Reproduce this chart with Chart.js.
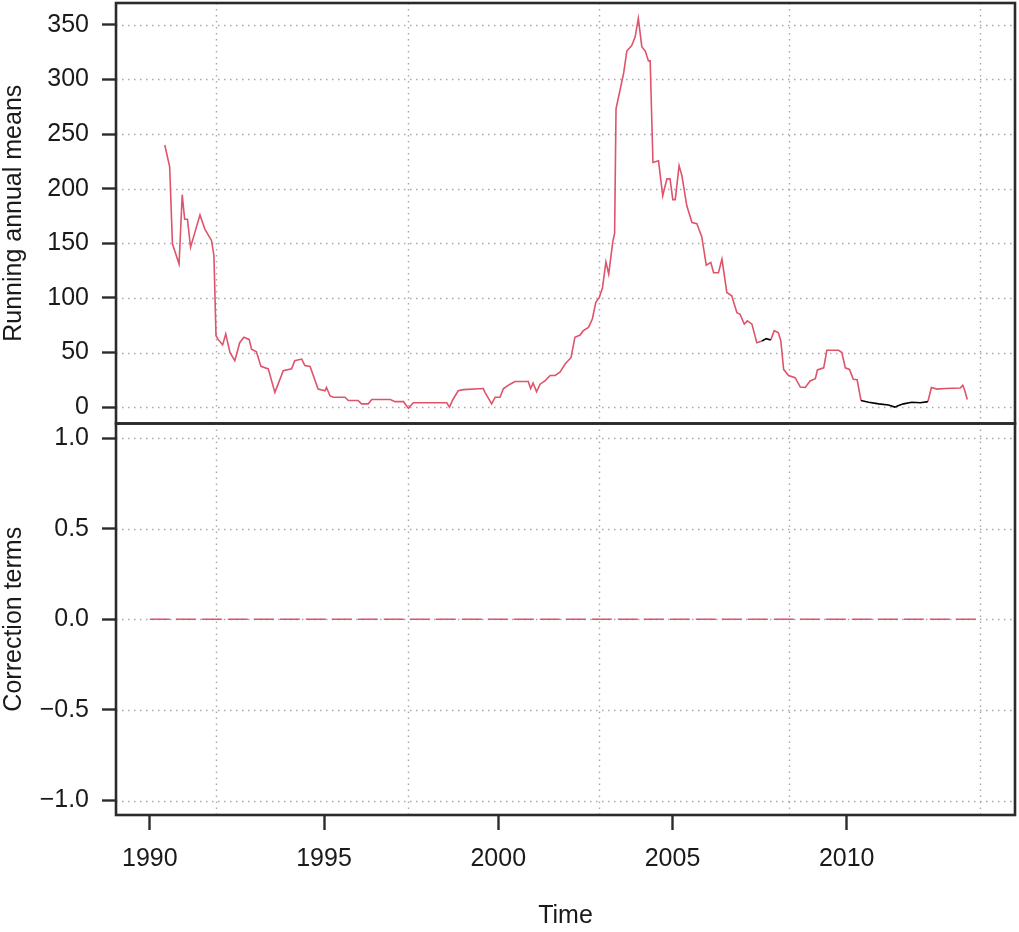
<!DOCTYPE html>
<html>
<head>
<meta charset="utf-8">
<script src="https://cdn.jsdelivr.net/npm/chart.js@4.4.1/dist/chart.umd.min.js"></script>
<style>
    html, body { margin: 0; padding: 0; background: #fff; }
    #wrap { position: relative; width: 1019px; height: 932px; }
    canvas { position: absolute; left: 0; }
    #top { top: 0; }
    #bottom { top: 420px; }
</style>
</head>
<body>
<div id="wrap">
    <canvas id="top" width="1019" height="430"></canvas>
    <canvas id="bottom" width="1019" height="512"></canvas>
</div>
<script>
// running annual means (decimal year, value)
const years = [
    1990.43, 1990.57, 1990.65, 1990.84, 1990.93, 1991.00, 1991.08, 1991.17, 1991.44, 1991.58,
    1991.77, 1991.84, 1991.90, 1991.96, 1992.09, 1992.18, 1992.30, 1992.44, 1992.58, 1992.70,
    1992.85, 1992.92, 1993.06, 1993.19, 1993.40, 1993.59, 1993.83, 1994.07, 1994.16, 1994.36,
    1994.45, 1994.60, 1994.83, 1995.03, 1995.07, 1995.17, 1995.26, 1995.60, 1995.70, 1995.98,
    1996.08, 1996.27, 1996.37, 1996.90, 1997.04, 1997.28, 1997.42, 1997.56, 1998.52, 1998.60,
    1998.70, 1998.85, 1999.00, 1999.57, 1999.62, 1999.81, 1999.91, 2000.05, 2000.15, 2000.34,
    2000.48, 2000.86, 2000.93, 2001.00, 2001.10, 2001.20, 2001.34, 2001.49, 2001.63, 2001.77,
    2001.92, 2002.09, 2002.20, 2002.35, 2002.44, 2002.59, 2002.70, 2002.80, 2002.90, 2002.99,
    2003.09, 2003.17, 2003.29, 2003.34, 2003.38, 2003.50, 2003.60, 2003.69, 2003.83, 2003.93,
    2004.02, 2004.12, 2004.22, 2004.31, 2004.36, 2004.44, 2004.60, 2004.72, 2004.84, 2004.93,
    2005.01, 2005.08, 2005.19, 2005.27, 2005.41, 2005.56, 2005.70, 2005.84, 2005.97, 2006.10,
    2006.18, 2006.32, 2006.42, 2006.56, 2006.70, 2006.85, 2006.94, 2007.06, 2007.15, 2007.28,
    2007.42, 2007.57, 2007.69, 2007.82, 2007.92, 2008.04, 2008.11, 2008.19, 2008.33, 2008.52,
    2008.67, 2008.81, 2008.95, 2009.10, 2009.16, 2009.34, 2009.43, 2009.77, 2009.86, 2009.96,
    2010.08, 2010.19, 2010.30, 2010.41, 2010.63, 2010.92, 2011.20, 2011.38, 2011.49, 2011.63,
    2011.87, 2012.11, 2012.33, 2012.43, 2012.59, 2012.83, 2013.26, 2013.33, 2013.39, 2013.46
];
const means = [
    240, 220, 149.5, 131, 194.5, 172, 172, 146.5, 176, 163,
    152.6, 139, 65.4, 62, 57, 67, 50, 42.5, 59, 64,
    62, 53, 50.7, 37.3, 35, 13.5, 33.3, 35, 42.5, 44,
    38, 37.3, 16.5, 15, 18, 10.4, 9, 9, 6, 6,
    3, 3, 7, 7, 5, 5, -1, 4, 4, 0,
    7, 15, 16, 17, 13.5, 3, 9, 9, 17, 21,
    23.5, 23.5, 17, 22, 14, 21, 24, 29, 29, 32,
    39.5, 45.5, 64, 66, 70, 73, 80.7, 96, 100.5, 109,
    133, 122, 152, 159, 273, 291, 306, 326, 331, 339,
    356, 330, 326, 317, 317, 224, 225.5, 193.5, 209, 209,
    190, 190, 221, 212, 184.5, 169, 168, 156, 130, 132.5,
    123, 123, 135.5, 105, 102, 86.5, 85, 76, 79, 76,
    59, 60.6, 62.7, 61.5, 70, 68, 60.6, 34.6, 29, 27,
    18.4, 18, 24, 26, 34, 36, 52, 52, 50, 36,
    34.5, 25.5, 25, 6, 4.5, 3, 2, 0, 1.5, 3,
    4.5, 4, 5, 18, 16.5, 17, 17.5, 20, 15, 7
];
// stretches drawn in black instead of red
const blackSpans = [[2007.57, 2007.82], [2010.41, 2012.33]];

// correction terms (flat at zero over the full series)
const corrYears = [1990.0, 2013.83];
const corrValues = [0, 0];

const yearTicks = [1990, 1995, 2000, 2005, 2010];
const yearTickLabels = ["1990", "1995", "2000", "2005", "2010"];
const meanTicks = [0, 50, 100, 150, 200, 250, 300, 350];
const meanTickLabels = ["0", "50", "100", "150", "200", "250", "300", "350"];
const corrTicks = [-1, -0.5, 0, 0.5, 1];
const corrTickLabels = ["\u22121.0", "\u22120.5", "0.0", "0.5", "1.0"];
const gridYears = [1991.9, 1997.42, 2002.89, 2008.35, 2013.83];

const RED = "#DF536B";
const FONT = "'Liberation Sans', Arial, sans-serif";
const FSIZE = 25;
const X_MIN = 1989.03, X_MAX = 2014.83;

const inSpan = (x, strict) => blackSpans.some(([a, b]) => strict ? (x > a && x < b) : (x >= a && x <= b));

const redPts = years.map((x, i) => ({ x, y: inSpan(x, true) ? null : means[i] }));
const blackPts = years.map((x, i) => ({ x, y: inSpan(x, false) ? means[i] : null }));
const corrPts = corrYears.map((x, i) => ({ x, y: corrValues[i] }));

// dotted grid + panel box, the R way
const panelDecor = {
    id: "panelDecor",
    beforeDatasetsDraw(chart, args, opts) {
        const { ctx, chartArea: a, scales } = chart;
        ctx.save();
        ctx.strokeStyle = "#a8a8a8";
        ctx.lineWidth = 1.4;
        ctx.setLineDash([1.5, 4.5]);
        opts.hLines.forEach(v => {
            const y = Math.round(scales.y.getPixelForValue(v)) + 0.5;
            ctx.beginPath(); ctx.moveTo(a.left, y); ctx.lineTo(a.right, y); ctx.stroke();
        });
        gridYears.forEach(v => {
            const x = Math.round(scales.x.getPixelForValue(v)) + 0.5;
            ctx.beginPath(); ctx.moveTo(x, a.top); ctx.lineTo(x, a.bottom); ctx.stroke();
        });
        ctx.restore();
    },
    afterDraw(chart) {
        const { ctx, chartArea: a } = chart;
        ctx.save();
        ctx.strokeStyle = "#2b2b2b";
        ctx.lineWidth = 2.6;
        ctx.strokeRect(a.left, a.top, a.right - a.left, a.bottom - a.top);
        ctx.restore();
    }
};

const noPad = s => { s.paddingTop = 0; s.paddingBottom = 0; s.paddingLeft = 0; s.paddingRight = 0; };

const yAxis = (ticks, labels, min, max, title) => ({
    type: "linear",
    min, max,
    afterFit: s => { s.width = 116; noPad(s); },
    afterBuildTicks: s => { s.ticks = ticks.map(v => ({ value: v })); },
    ticks: {
        color: "#1a1a1a",
        padding: 13,
        font: { family: FONT, size: FSIZE },
        callback: (v, i) => labels[i]
    },
    grid: { drawOnChartArea: false, drawTicks: true, tickLength: 14, tickColor: "#2b2b2b", tickWidth: 2.4 },
    border: { display: false },
    title: { display: true, text: title, color: "#1a1a1a", font: { family: FONT, size: FSIZE, lineHeight: 1 }, padding: { top: 2, bottom: 0 } }
});

Chart.defaults.animation = false;
Chart.defaults.font.family = FONT;

new Chart(document.getElementById("top"), {
    type: "line",
    data: {
        datasets: [
            { data: blackPts, borderColor: "#000", borderWidth: 1.6, pointRadius: 0, spanGaps: false },
            { data: redPts, borderColor: RED, borderWidth: 1.6, pointRadius: 0, spanGaps: false }
        ]
    },
    options: {
        responsive: false,
        layout: { padding: { top: 3, right: 4, left: 0, bottom: 6.5 } },
        plugins: { legend: { display: false }, tooltip: { enabled: false }, panelDecor: { hLines: meanTicks } },
        scales: {
            x: { type: "linear", min: X_MIN, max: X_MAX, display: false },
            y: yAxis(meanTicks, meanTickLabels, -15, 370, "Running annual means")
        }
    },
    plugins: [panelDecor]
});

new Chart(document.getElementById("bottom"), {
    type: "line",
    data: {
        datasets: [
            { data: corrPts, borderColor: RED, borderWidth: 1.6, borderDash: [20, 6], pointRadius: 0 }
        ]
    },
    options: {
        responsive: false,
        layout: { padding: { top: 3.5, right: 4, left: 0, bottom: 0 } },
        plugins: { legend: { display: false }, tooltip: { enabled: false }, panelDecor: { hLines: corrTicks } },
        scales: {
            x: {
                type: "linear", min: X_MIN, max: X_MAX,
                afterFit: s => { s.height = 117; noPad(s); },
                afterBuildTicks: s => { s.ticks = yearTicks.map(v => ({ value: v })); },
                ticks: {
                    color: "#1a1a1a", padding: 14, maxRotation: 0,
                    font: { family: FONT, size: FSIZE },
                    callback: (v, i) => yearTickLabels[i]
                },
                grid: { drawOnChartArea: false, drawTicks: true, tickLength: 15, tickColor: "#2b2b2b", tickWidth: 2.4 },
                border: { display: false },
                title: { display: true, text: "Time", color: "#1a1a1a", font: { family: FONT, size: FSIZE, lineHeight: 1 }, padding: { top: 0, bottom: 3 } }
            },
            y: yAxis(corrTicks, corrTickLabels, -1.08, 1.08, "Correction terms")
        }
    },
    plugins: [panelDecor]
});
</script>
</body>
</html>
